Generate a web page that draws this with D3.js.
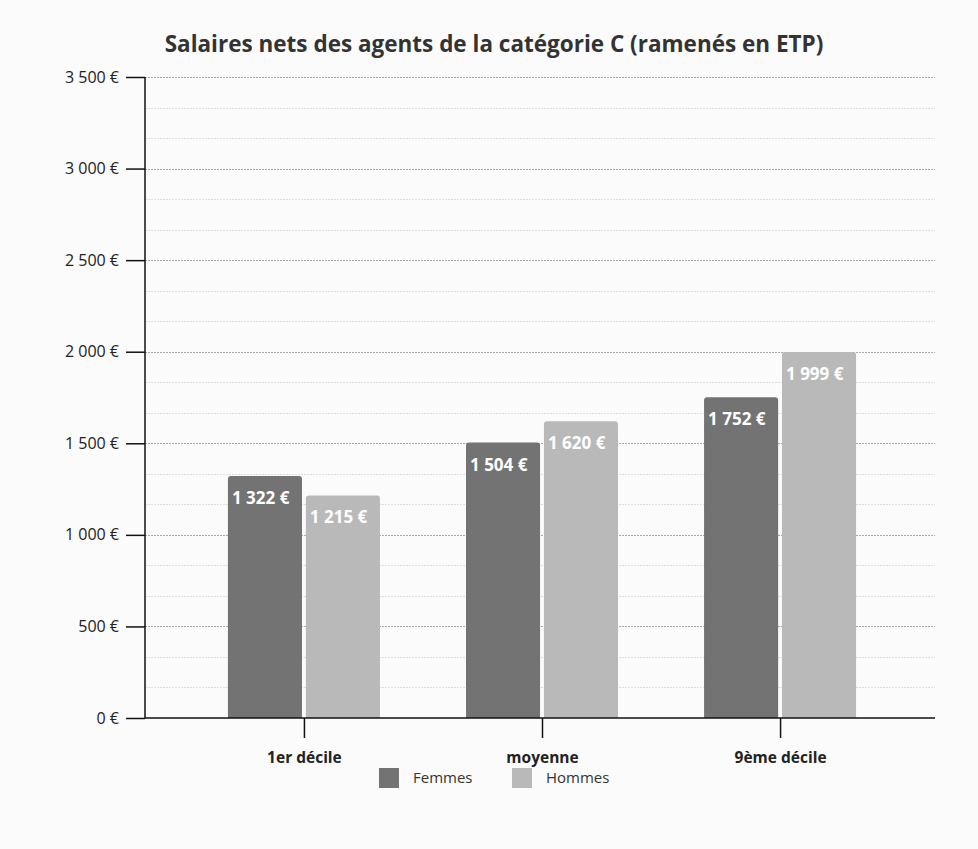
<!DOCTYPE html>
<html>
<head>
<meta charset="utf-8">
<script src="https://cdn.jsdelivr.net/npm/d3@7"></script>
<style>
  body { margin: 0; background: #fbfbfb; }
  #chart text { font-family: "Open Sans", "Liberation Sans", sans-serif; }
</style>
</head>
<body>
<div id="chart"></div>
<script>
// data
var categories = ['1er décile', 'moyenne', '9ème décile'];
var series = ['Femmes', 'Hommes'];
var femmes = [1322, 1504, 1752];
var hommes = [1215, 1620, 1999];
var yTicks = [0, 500, 1000, 1500, 2000, 2500, 3000, 3500];
var colors = ['#737373', '#b9b9b9'];

var W = 978, H = 849;
var margin = { top: 77, right: 43, bottom: 131, left: 145 };
var width = W - margin.left - margin.right;
var height = H - margin.top - margin.bottom;

var fmt = function (v) {
  return d3.format(',')(v).replace(/,/g, ' ') + ' €';
};

var svg = d3.select('#chart').append('svg')
  .attr('width', W).attr('height', H);

svg.append('text')
  .attr('x', 494).attr('y', 52)
  .attr('text-anchor', 'middle')
  .style('font-size', '22.5px').style('font-weight', 'bold').style('fill', '#333')
  .text('Salaires nets des agents de la catégorie C (ramenés en ETP)');

var g = svg.append('g')
  .attr('transform', 'translate(' + margin.left + ',' + margin.top + ')');

var y = d3.scaleLinear().domain([0, 3500]).range([height, 0]);
var x = d3.scalePoint().domain(categories).range([3, width + 1]).padding(0.655);
var xs = d3.scaleBand().domain(series).range([-76, 76]).paddingInner(0.05);

// minor grid (thirds)
g.selectAll('.minor').data(d3.range(0, 3500, 500 / 3).filter(function (v, i) { return i % 3 !== 0; }))
  .enter().append('line')
  .attr('x1', 0).attr('x2', width)
  .attr('y1', function (d) { return Math.round(y(d)) + 0.5; })
  .attr('y2', function (d) { return Math.round(y(d)) + 0.5; })
  .attr('stroke', '#dcdcdc').attr('stroke-width', 1).attr('stroke-dasharray', '2,1');

// major grid
g.selectAll('.major').data(yTicks.slice(1))
  .enter().append('line')
  .attr('x1', 0).attr('x2', width)
  .attr('y1', function (d) { return Math.round(y(d)) + 0.5; })
  .attr('y2', function (d) { return Math.round(y(d)) + 0.5; })
  .attr('stroke', '#a8a8a8').attr('stroke-width', 1).attr('stroke-dasharray', '2,1');

// bars
var groups = g.selectAll('.grp').data(categories).enter().append('g')
  .attr('transform', function (d) { return 'translate(' + x(d) + ',0)'; });

groups.each(function (cat, i) {
  var vals = [femmes[i], hommes[i]];
  var gg = d3.select(this);
  series.forEach(function (s, j) {
    var v = vals[j];
    gg.append('path')
      .attr('d', function () {
        var x0 = xs(s), w = xs.bandwidth(), y0 = y(v), r = 3, yb = height;
        return 'M' + x0 + ',' + yb + 'V' + (y0 + r) + 'Q' + x0 + ',' + y0 + ' ' + (x0 + r) + ',' + y0 +
          'H' + (x0 + w - r) + 'Q' + (x0 + w) + ',' + y0 + ' ' + (x0 + w) + ',' + (y0 + r) + 'V' + yb + 'Z';
      })
      .attr('fill', colors[j]);
    gg.append('text')
      .attr('x', xs(s) + 4).attr('y', y(v) + 28)
      .style('font-size', '17px').style('font-weight', 'bold').style('fill', '#fff')
      .text(fmt(v));
  });
});

// y axis
var yAxis = g.append('g')
  .call(d3.axisLeft(y).tickValues(yTicks).tickSize(19).tickPadding(7).tickFormat(fmt));
yAxis.select('.domain').attr('stroke', '#111').attr('stroke-width', 1.5).attr('d', 'M0,0V' + height);
yAxis.selectAll('.tick line').attr('stroke', '#111').attr('stroke-width', 1.5);
yAxis.selectAll('.tick text').style('font-size', '16px').style('fill', '#222');

// x axis
var xAxis = g.append('g').attr('transform', 'translate(0,' + height + ')')
  .call(d3.axisBottom(x).tickSize(20).tickPadding(14));
xAxis.select('.domain').attr('stroke', '#111').attr('stroke-width', 1.5).attr('d', 'M0,0H' + width);
xAxis.selectAll('.tick line').attr('stroke', '#111').attr('stroke-width', 1.5);
xAxis.selectAll('.tick text').style('font-size', '15.5px').style('font-weight', 'bold').style('fill', '#222');

// legend
var legend = svg.append('g').attr('transform', 'translate(379,768)');
var lx = [0, 133];
series.forEach(function (s, j) {
  var lg = legend.append('g').attr('transform', 'translate(' + lx[j] + ',0)');
  lg.append('rect').attr('width', 20).attr('height', 20).attr('fill', colors[j]);
  lg.append('text').attr('x', 34).attr('y', 15)
    .style('font-size', '15px').style('fill', '#333').text(s);
});
</script>
</body>
</html>
